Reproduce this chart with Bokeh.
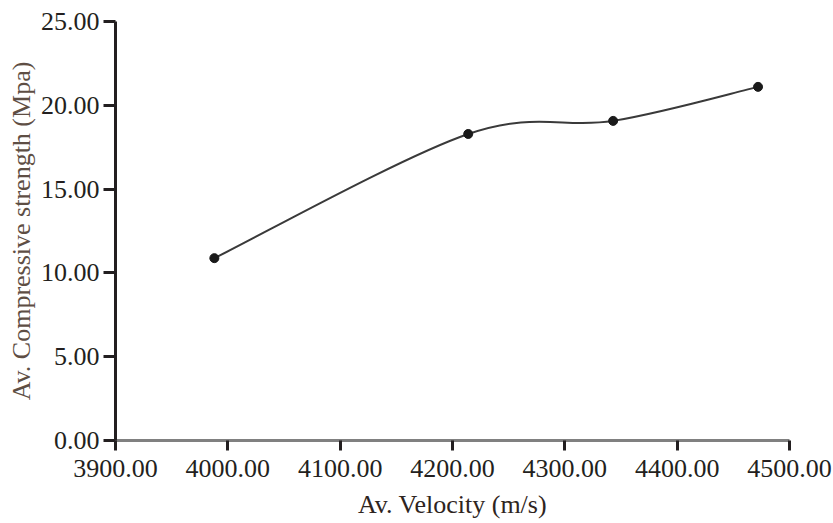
from bokeh.plotting import figure
from bokeh.models import NumeralTickFormatter, FixedTicker, Range1d
from bokeh.embed import file_html
from bokeh.resources import INLINE

# Average pulse velocity vs. average compressive strength
velocity = [3988, 4214, 4343, 4472]          # m/s
strength = [10.88, 18.29, 19.07, 21.10]      # MPa

x_ticks = [3900, 4000, 4100, 4200, 4300, 4400, 4500]
y_ticks = [0, 5, 10, 15, 20, 25]

FONT = "Liberation Serif"
TXT = "#231f20"

p = figure(width=833, height=523, output_backend="svg", toolbar_location=None,
           x_range=Range1d(3900, 4500), y_range=Range1d(0, 25),
           min_border_left=115, min_border_right=44,
           min_border_top=21, min_border_bottom=83)
p.outline_line_color = None
p.xgrid.grid_line_color = None
p.ygrid.grid_line_color = None
p.background_fill_color = "white"
p.border_fill_color = "white"

# smooth curve through the points (Catmull-Rom segments as cubic Beziers)
n = len(velocity)
x0, y0, x1, y1, cx0, cy0, cx1, cy1 = [], [], [], [], [], [], [], []
for i in range(n - 1):
    pa = i - 1 if i > 0 else i
    pd = i + 2 if i + 2 < n else i + 1
    x0.append(velocity[i]); y0.append(strength[i])
    x1.append(velocity[i + 1]); y1.append(strength[i + 1])
    cx0.append(velocity[i] + (velocity[i + 1] - velocity[pa]) / 6)
    cy0.append(strength[i] + (strength[i + 1] - strength[pa]) / 6)
    cx1.append(velocity[i + 1] - (velocity[pd] - velocity[i]) / 6)
    cy1.append(strength[i + 1] - (strength[pd] - strength[i]) / 6)

p.bezier(x0=x0, y0=y0, x1=x1, y1=y1, cx0=cx0, cy0=cy0, cx1=cx1, cy1=cy1,
         line_color="#3a3a3a", line_width=2)
p.scatter(velocity, strength, marker="circle", size=9,
          fill_color="#1a1a1a", line_color="#1a1a1a")

# x axis
xa = p.xaxis[0]
xa.ticker = FixedTicker(ticks=x_ticks)
xa.formatter = NumeralTickFormatter(format="0.00")
xa.axis_line_color = "#808080"
xa.axis_line_width = 3
xa.major_tick_line_color = "#231f20"
xa.major_tick_line_width = 3
xa.major_tick_out = 10
xa.major_tick_in = 0
xa.minor_tick_line_color = None
xa.major_label_text_font = FONT
xa.major_label_text_font_size = "26px"
xa.major_label_text_color = TXT
xa.major_label_standoff = 9
xa.axis_label = "Av. Velocity (m/s)"
xa.axis_label_text_font = FONT
xa.axis_label_text_font_size = "26px"
xa.axis_label_text_font_style = "normal"
xa.axis_label_text_color = "#2e2420"
xa.axis_label_standoff = 10

# y axis
ya = p.yaxis[0]
ya.ticker = FixedTicker(ticks=y_ticks)
ya.formatter = NumeralTickFormatter(format="0.00")
ya.axis_line_color = "#231f20"
ya.axis_line_width = 3
ya.major_tick_line_color = "#231f20"
ya.major_tick_line_width = 3
ya.major_tick_out = 12
ya.major_tick_in = 0
ya.minor_tick_line_color = None
ya.major_label_text_font = FONT
ya.major_label_text_font_size = "26px"
ya.major_label_text_color = TXT
ya.major_label_standoff = 4
ya.axis_label = "Av. Compressive strength (Mpa)"
ya.axis_label_text_font = FONT
ya.axis_label_text_font_size = "26px"
ya.axis_label_text_font_style = "normal"
ya.axis_label_text_color = "#5e4e44"
ya.axis_label_standoff = 2

open("out.html", "w").write(file_html(p, INLINE))
